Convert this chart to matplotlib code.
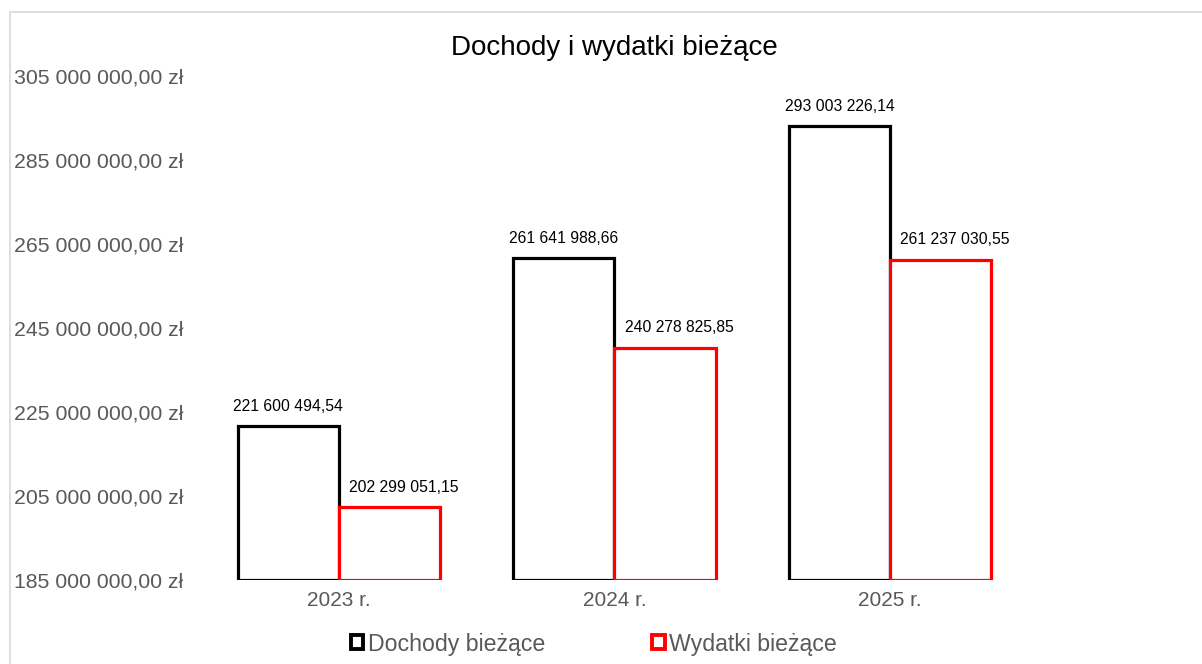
import numpy as np
import matplotlib
matplotlib.use("Agg")
import matplotlib.pyplot as plt
from matplotlib.patches import Rectangle
from matplotlib.ticker import FuncFormatter

plt.rcParams["font.family"] = ["Liberation Sans", "DejaVu Sans"]

# dane
years = ["2023 r.", "2024 r.", "2025 r."]
dochody = [221600494.54, 261641988.66, 293003226.14]
wydatki = [202299051.15, 240278825.85, 261237030.55]
series_names = ["Dochody bieżące", "Wydatki bieżące"]
colors = ["#000000", "#ff0000"]
GRAY = "#595959"


def pl_num(v, dec=2):
    s = f"{v:,.{dec}f}"
    return s.replace(",", " ").replace(".", ",")


fig = plt.figure(figsize=(12.02, 6.64), dpi=100)
ax = fig.add_axes([0.1672, 0.1265, 0.688, 0.759])

# ramka wykresu
fig.patches.append(Rectangle((10 / 1202, -0.01), 1.0, 1 - 12 / 664 + 0.01,
                             transform=fig.transFigure, fill=False,
                             edgecolor="#d9d9d9", lw=1.2))

x = np.arange(len(years))
w = 0.367
base = 185_000_000
# etykiety wydatkow w Excelu sa przesuniete troche w prawo
for vals, off, col, dx in [(dochody, -w / 2, colors[0], 0),
                           (wydatki, w / 2, colors[1], 10)]:
    heights = [v - base for v in vals]
    bars = ax.bar(x + off, heights, w, bottom=base, facecolor="white",
                  edgecolor=col, lw=2.3, joinstyle="miter")
    for b, v in zip(bars, vals):
        ax.annotate(pl_num(v), (b.get_x() + b.get_width() / 2, v),
                    xytext=(dx, 9), textcoords="offset points",
                    ha="center", va="bottom", fontsize=11.3, color="black")

ax.set_xlim(-0.5, 2.5)
ax.set_ylim(185_000_000, 305_000_000)
ax.set_yticks(np.arange(185_000_000, 305_000_001, 20_000_000))
ax.yaxis.set_major_formatter(FuncFormatter(lambda v, p: pl_num(v) + " zł"))
ax.set_xticks(x)
ax.set_xticklabels(years)
ax.tick_params(axis="y", length=0, pad=13, labelsize=15.3, labelcolor=GRAY)
ax.tick_params(axis="x", length=0, pad=8, labelsize=15, labelcolor=GRAY)
for s in ax.spines.values():
    s.set_visible(False)

fig.text(0.511, 1 - 48 / 664, "Dochody i wydatki bieżące", ha="center",
         va="center", fontsize=20, color="black")

handles = [Rectangle((0, 0), 1, 1, facecolor="white", edgecolor=c, lw=2.8)
           for c in colors]
leg = fig.legend(handles, series_names, loc="center", ncol=2,
                 bbox_to_anchor=(0.494, 1 - 644 / 664), frameon=False,
                 fontsize=16.7, handlelength=0.55, handleheight=0.55,
                 handletextpad=0.2, columnspacing=4.6)
for t in leg.get_texts():
    t.set_color(GRAY)

fig.savefig("out.png", dpi=100)
